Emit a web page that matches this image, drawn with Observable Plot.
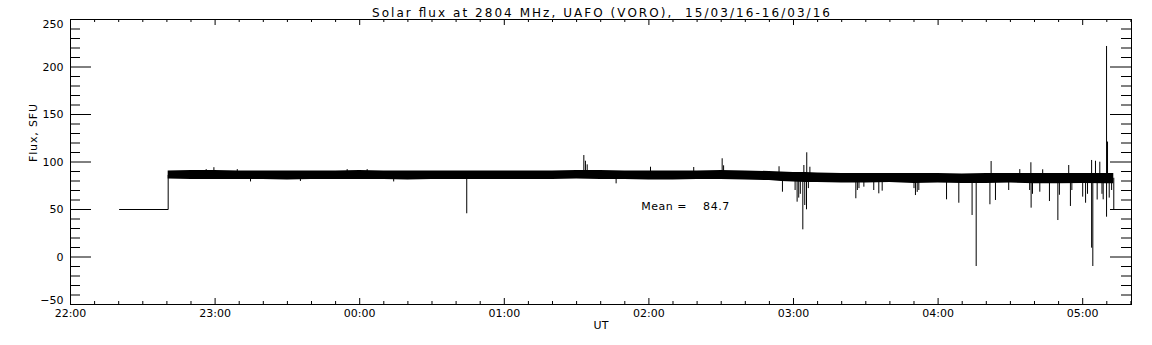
<!DOCTYPE html>
<html><head><meta charset="utf-8">
<script src="https://cdn.jsdelivr.net/npm/d3@7"></script>
<script src="https://cdn.jsdelivr.net/npm/@observablehq/plot@0.6"></script>
<style>
html,body{margin:0;padding:0;background:#fff;}
#chart svg{display:block;}
#chart text{white-space:pre;}
</style></head><body><div id="chart"></div>
<script>
// ---- texts ----
const title = "Solar flux at 2804 MHz, UAFO (VORO),  15/03/16-16/03/16";
const yLabel = "Flux, SFU";
const xLabel = "UT";
const meanLabel = "Mean =    84.7";
const xTickLabels = ["22:00","23:00","00:00","01:00","02:00","03:00","04:00","05:00"];
const yTickValues = [-50, 0, 50, 100, 150, 200, 250];
const yTickLabels = ["\u221250", "0", "50", "100", "150", "200", "250"];

// ---- data (UT, flux in SFU) ----
const stepTimes = ["22:20:20", "22:40:32", "22:40:32"];
const stepFlux  = [50, 50, 86];
const endTimes  = ["05:12:54", "05:12:54"];
const endFlux   = [83, 50];

// envelope of the dense 1-s record (solid band)
const bandTimes = ["22:40:32","22:50","23:00","23:10","23:20","23:30","23:40","23:50","00:00","00:10","00:20","00:30","00:40","00:50","01:00","01:10","01:20","01:30","01:40","01:50","02:00","02:10","02:20","02:30","02:40","02:50","02:55","03:00","03:05","03:10","03:20","03:30","03:40","03:50","04:00","04:10","04:20","04:30","04:40","04:50","05:00","05:10","05:12:54"];
const bandHigh  = [90.5,91,91,90.5,90.5,90.5,90.5,90.5,91,90.5,90.5,90.5,90.5,90.5,90.5,90.5,90.5,91,91,90.5,90.5,90.5,90.5,91,90.5,90,89.5,89,89,88.5,88,88,88,88,88,87.5,88,88,88,88,88,88,88];
const bandLow   = [82,81.5,81.5,81.5,81.5,81,81.5,81.5,81.5,81.5,81,81.5,81.5,81.5,81.5,81.5,81.5,82,81.5,81.5,81,81,81.5,81.5,81,80.5,79.5,79,78.5,78.5,78,78,78.5,77.5,78,77.5,77.5,78,77,77,77.5,77,77];

// isolated spikes
const spikeTimes = ["22:56:18","22:59:30","23:09:12","23:14:42","23:35:24","23:54:48","00:03:06","00:14:06","00:44:25","01:33:00","01:33:40","01:34:24","01:46:24","02:00:40","02:18:36","02:30:24","02:31:00","02:54:00","02:55:25","03:00:40","03:01:30","03:02:10","03:02:50","03:03:52","03:04:18","03:04:40","03:05:24","03:05:30","03:06:10","03:06:48","03:25:52","03:26:30","03:27:10","03:29:12","03:33:18","03:35:24","03:36:48","03:50:00","03:50:36","03:51:20","03:52:00","04:03:30","04:08:36","04:14:06","04:15:48","04:21:30","04:22:00","04:23:48","04:29:18","04:33:54","04:38:00","04:38:30","04:38:36","04:39:10","04:42:12","04:43:24","04:46:12","04:49:42","04:50:20","04:54:12","04:54:54","04:55:30","05:00:00","05:01:12","05:02:00","05:03:42","05:03:42","05:04:12","05:05:18","05:06:00","05:07:06","05:08:00","05:08:30","05:09:54","05:09:54","05:10:18","05:11:00","05:12:00"];
const spikeFlux  = [92,94,92,79,79.5,92,92,79,45.5,106.8,100.8,97,77,94.5,94.2,103.4,96,95,68.2,70,57.7,62,66,28.6,96.3,54.2,49.7,109.7,72,94.5,61.3,70,72,73.5,70,66.5,69.3,72,64.7,68,70,60.2,56.6,43.7,-10,55,100.5,59.5,70,92,70,99.2,51.4,66,68.2,91.8,58.4,38.4,65,96.3,53.2,70,63,56.6,66,101.6,9.3,-10,100.8,60,99.8,66,60.2,221.6,41.9,121,62,70];

// ---- helpers ----
function toDate(s) {
  const [h, m, sec = 0] = s.split(":").map(Number);
  const day = h >= 12 ? 15 : 16;
  return new Date(Date.UTC(2016, 2, day, h, m, sec));
}
const stepData  = stepTimes.map((t, i) => ({t: toDate(t), v: stepFlux[i]}));
const endData   = endTimes.map((t, i) => ({t: toDate(t), v: endFlux[i]}));
const bandData  = bandTimes.map((t, i) => ({t: toDate(t), hi: bandHigh[i], lo: bandLow[i]}));
const spikeData = spikeTimes.map((t, i) => ({t: toDate(t), v: spikeFlux[i]}));

const W = 1152, H = 345, ML = 70, MR = 21, MT = 19, MB = 41;
const FW = W - ML - MR, FH = H - MT - MB;
const x0 = toDate("22:00"), x1 = toDate("05:20:15");
const hourTicks = xTickLabels.map(toDate);
const minorX = d3.utcMinute.every(10).range(x0, x1).filter(d => d.getUTCMinutes() !== 0);
const minorY = d3.range(-50, 251, 10).filter(v => v % 50 !== 0);
const yMid = yTickValues.map((v, i) => i).filter(i => i > 0 && i < yTickValues.length - 1);

const black = "black";
const plot = Plot.plot({
  width: W, height: H,
  marginLeft: ML, marginRight: MR, marginTop: MT, marginBottom: MB,
  x: {type: "utc", domain: [x0, x1], axis: null},
  y: {domain: [-50, 250], axis: null},
  style: {fontFamily: "'DejaVu Sans', sans-serif", fontSize: "11px", color: black, background: "white"},
  marks: [
    Plot.areaY(bandData, {x: "t", y1: "lo", y2: "hi", fill: black}),
    Plot.ruleX(spikeData, {x: "t", y1: 84, y2: "v", stroke: black, strokeWidth: 1}),
    Plot.line(stepData, {x: "t", y: "v", stroke: black, strokeWidth: 1}),
    Plot.line(endData, {x: "t", y: "v", stroke: black, strokeWidth: 1}),
    Plot.frame({stroke: black}),
    // x ticks (bottom & top)
    Plot.ruleX(hourTicks, {x: d => d, insetTop: FH - 6, stroke: black}),
    Plot.ruleX(hourTicks, {x: d => d, insetBottom: FH - 6, stroke: black}),
    Plot.ruleX(minorX, {x: d => d, insetTop: FH - 3, stroke: black}),
    Plot.ruleX(minorX, {x: d => d, insetBottom: FH - 3, stroke: black}),
    // y ticks (left & right)
    Plot.ruleY(yTickValues, {y: d => d, insetRight: FW - 21, stroke: black}),
    Plot.ruleY(yTickValues, {y: d => d, insetLeft: FW - 21, stroke: black}),
    Plot.ruleY(minorY, {y: d => d, insetRight: FW - 10, stroke: black}),
    Plot.ruleY(minorY, {y: d => d, insetLeft: FW - 10, stroke: black}),
    // tick labels
    Plot.text(hourTicks, {x: d => d, text: (d, i) => xTickLabels[i], frameAnchor: "bottom", dy: 12, fill: black}),
    Plot.text(yMid, {y: i => yTickValues[i], text: i => yTickLabels[i], frameAnchor: "left", dx: -7, textAnchor: "end", fill: black}),
    Plot.text([yTickValues.length - 1], {y: i => yTickValues[i], text: i => yTickLabels[i], frameAnchor: "left", dx: -7, dy: 5, textAnchor: "end", fill: black}),
    Plot.text([0], {y: i => yTickValues[i], text: i => yTickLabels[i], frameAnchor: "left", dx: -7, dy: -4, textAnchor: "end", fill: black}),
    // titles
    Plot.text([title], {text: d => d, frameAnchor: "top", dy: -11, fontSize: 12, fill: black}),
    Plot.text([xLabel], {text: d => d, frameAnchor: "bottom", dy: 24, fill: black}),
    Plot.text([yLabel], {text: d => d, frameAnchor: "left", dx: -37, rotate: -90, fill: black}),
    Plot.text([meanLabel], {text: d => d, x: () => toDate("01:56:48"), y: () => 53, textAnchor: "start", fill: black})
  ]
});
document.getElementById("chart").append(plot);
// stretch texts to the reference's wide vector-font widths
for (const t of plot.querySelectorAll("text")) {
  if (t.textContent === title) { t.setAttribute("textLength", 458); t.setAttribute("lengthAdjust", "spacing"); }
  if (t.textContent === meanLabel) { t.setAttribute("textLength", 88); t.setAttribute("lengthAdjust", "spacing"); }
  if (t.textContent === yLabel) { t.setAttribute("textLength", 58); t.setAttribute("lengthAdjust", "spacing"); }
}
</script></body></html>
